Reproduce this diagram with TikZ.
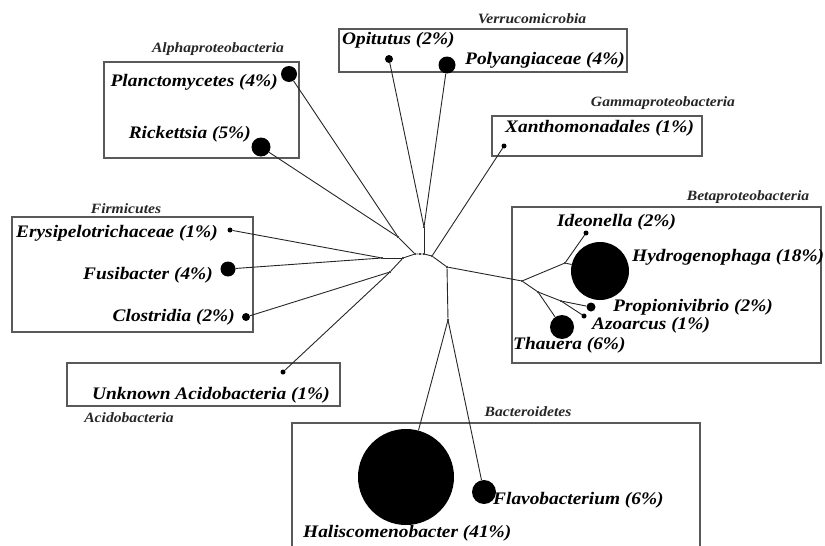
\documentclass[tikz,border=0pt]{standalone}
\usepackage{fontspec}
\setmainfont{Liberation Serif}[FakeStretch=1.1]
\usetikzlibrary{calc}

\begin{document}
\begin{tikzpicture}[x=1pt,y=-1pt,
    leaf/.style={circle,fill=black,inner sep=0pt,minimum size=#1},
    inner/.style={circle,fill=black,inner sep=0pt,minimum size=2.2pt},
    branch/.style={black!85,line width=0.9pt},
    grpbox/.style={black!65,line width=1.2pt},
    taxon/.style={inner sep=0pt,font=\bfseries\itshape\fontsize{17.6}{20}\selectfont},
    grp/.style={inner sep=0pt,text=black!85,font=\bfseries\itshape\fontsize{14.2}{16}\selectfont}
    ]
    \useasboundingbox (0,0) rectangle (825,546);
    % group boxes
    \draw[grpbox] (104,62) rectangle (299,158);
    \draw[grpbox] (339,29) rectangle (627,72);
    \draw[grpbox] (492,116) rectangle (702,156);
    \draw[grpbox] (512,207) rectangle (821,363);
    \draw[grpbox] (12,217) rectangle (253,332);
    \draw[grpbox] (67,363) rectangle (340,406);
    \draw[grpbox] (292,548) |- (700,423) -- (700,548);
    \node[grp] (gAlpha) at (218,49) {Alphaproteobacteria};
    \node[grp] (gVerr) at (532,19) {Verrucomicrobia};
    \node[grp] (gGamma) at (663,103) {Gammaproteobacteria};
    \node[grp] (gBeta) at (748,197) {Betaproteobacteria};
    \node[grp] (gFirm) at (126,209) {Firmicutes};
    \node[grp] (gAcid) at (129,418) {Acidobacteria};
    \node[grp] (gBact) at (528,412) {Bacteroidetes};
    % leaves
    \node[leaf=16pt] (planct) at (289,74) {};
    \node[leaf=19pt] (rick) at (261,147) {};
    \node[leaf=8pt] (opit) at (389,59) {};
    \node[leaf=17pt] (poly) at (447,65) {};
    \node[leaf=5pt] (xanth) at (504,146) {};
    \node[leaf=5pt] (erys) at (230,230) {};
    \node[leaf=15pt] (fusi) at (228,269) {};
    \node[leaf=8pt] (clos) at (246,317) {};
    \node[leaf=5pt] (acid) at (283,372) {};
    \node[leaf=5pt] (ideo) at (586,233) {};
    \node[leaf=58pt] (hydro) at (600,271) {};
    \node[leaf=9pt] (prop) at (591,307) {};
    \node[leaf=5pt] (azo) at (584,316) {};
    \node[leaf=24pt] (thau) at (562,327) {};
    \node[leaf=96pt] (hali) at (406,477) {};
    \node[leaf=24pt] (flavo) at (484,492) {};
    % leaf labels
    \node[taxon,anchor=east] (lPlanct) at (278,82) {Planctomycetes (4\%)};
    \node[taxon,anchor=east] (lRick) at (251,134) {Rickettsia (5\%)};
    \node[taxon,anchor=west] (lOpit) at (342,40) {Opitutus (2\%)};
    \node[taxon,anchor=west] (lPoly) at (465,60) {Polyangiaceae (4\%)};
    \node[taxon,anchor=west] (lXanth) at (505,128) {Xanthomonadales (1\%)};
    \node[taxon,anchor=east] (lErys) at (218,233) {Erysipelotrichaceae (1\%)};
    \node[taxon,anchor=east] (lFusi) at (213,275) {Fusibacter (4\%)};
    \node[taxon,anchor=east] (lClos) at (235,317) {Clostridia (2\%)};
    \node[taxon,anchor=east] (lAcid) at (330,395) {Unknown Acidobacteria (1\%)};
    \node[taxon,anchor=west] (lIdeo) at (557,222) {Ideonella (2\%)};
    \node[taxon,anchor=west] (lHydro) at (632,257) {Hydrogenophaga (18\%)};
    \node[taxon,anchor=west] (lProp) at (613,307) {Propionivibrio (2\%)};
    \node[taxon,anchor=west] (lAzo) at (592,325) {Azoarcus (1\%)};
    \node[taxon,anchor=west] (lThau) at (513,345) {Thauera (6\%)};
    \node[taxon,anchor=west] (lHali) at (303,533) {Haliscomenobacter (41\%)};
    \node[taxon,anchor=west] (lFlavo) at (493,500) {Flavobacterium (6\%)};
    % inner nodes
    \node[inner] (nAlpha) at (398,237) {};
    \node[inner] (nVerr) at (424,227) {};
    \node[inner] (nFirm) at (382,258) {};
    \node[inner] (nClAc) at (390,272) {};
    \node[inner] (nLeft) at (403,258) {};
    \node[inner] (c1) at (415,254) {};
    \node[inner] (c2) at (420,254) {};
    \node[inner] (c3) at (424,254) {};
    \node[inner] (c4) at (432,256) {};
    \node[inner] (nMid) at (447,267) {};
    \node[inner] (nBeta) at (522,281) {};
    \node[inner] (nIdHy) at (565,263) {};
    \node[inner] (nTh) at (538,292) {};
    \node[inner] (nPrAz) at (561,301) {};
    \node[inner] (nBact) at (448,320) {};
    % branches
    \draw[branch] (planct) -- (nAlpha);
    \draw[branch] (rick) -- (nAlpha);
    \draw[branch] (nAlpha) -- (c1);
    \draw[branch] (opit) -- (nVerr);
    \draw[branch] (poly) -- (nVerr);
    \draw[branch] (nVerr) -- (c3);
    \draw[branch] (xanth) -- (c4);
    \draw[branch] (erys) -- (nFirm);
    \draw[branch] (fusi) -- (nFirm);
    \draw[branch] (nFirm) -- (nLeft);
    \draw[branch] (clos) -- (nClAc);
    \draw[branch] (acid) -- (nClAc);
    \draw[branch] (nClAc) -- (nLeft);
    \draw[branch] (nLeft) -- (c1) -- (c2) -- (c3) -- (c4) -- (nMid);
    \draw[branch] (nMid) -- (nBeta);
    \draw[branch] (nMid) -- (nBact);
    \draw[branch] (nBeta) -- (nIdHy);
    \draw[branch] (nIdHy) -- (ideo);
    \draw[branch] (nIdHy) -- (hydro);
    \draw[branch] (nBeta) -- (nTh);
    \draw[branch] (nTh) -- (thau);
    \draw[branch] (nTh) -- (nPrAz);
    \draw[branch] (nPrAz) -- (prop);
    \draw[branch] (nPrAz) -- (azo);
    \draw[branch] (nBact) -- (hali);
    \draw[branch] (nBact) -- (flavo);
\end{tikzpicture}
\end{document}
